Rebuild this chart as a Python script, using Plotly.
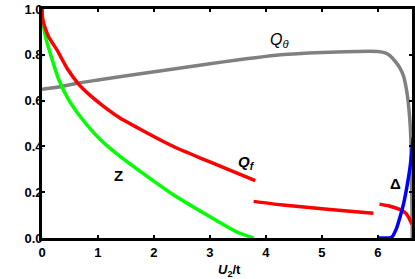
import plotly.graph_objects as go

# Z (green)
z_x = [0, 0.01, 0.03, 0.07, 0.136, 0.30, 0.475, 0.70, 1.04, 1.40, 1.76, 2.34, 2.95, 3.49, 3.78]
z_y = [1.0, 0.955, 0.92, 0.872, 0.815, 0.691, 0.604, 0.525, 0.43, 0.355, 0.29, 0.19, 0.10, 0.025, 0.0]

# Q_f (red), three branches
qf1_x = [0, 0.01, 0.05, 0.12, 0.27, 0.45, 0.654, 0.85, 1.10, 1.40, 1.755, 2.30, 2.83, 3.30, 3.81]
qf1_y = [1.0, 0.96, 0.922, 0.878, 0.82, 0.74, 0.672, 0.625, 0.575, 0.523, 0.475, 0.405, 0.349, 0.302, 0.251]
qf2_x = [3.78, 4.26, 5.0, 5.5, 5.92]
qf2_y = [0.16, 0.145, 0.128, 0.117, 0.108]
qf3_x = [6.03, 6.2, 6.40, 6.50, 6.55, 6.61]
qf3_y = [0.148, 0.14, 0.124, 0.108, 0.09, 0.06]

# Delta (blue)
d_x = [6.02, 6.20, 6.25, 6.33, 6.40, 6.46, 6.52, 6.57, 6.61, 6.63]
d_y = [0.0, 0.0, 0.004, 0.04, 0.095, 0.15, 0.225, 0.30, 0.386, 0.44]

# Q_theta (gray)
qt_x = [0, 0.357, 0.654, 1.0, 1.755, 3.0, 4.26, 5.0, 5.86, 6.0, 6.13, 6.22, 6.31, 6.40, 6.46, 6.53, 6.57, 6.59, 6.605, 6.615]
qt_y = [0.65, 0.662, 0.677, 0.69, 0.717, 0.761, 0.80, 0.81, 0.815, 0.814, 0.808, 0.795, 0.771, 0.74, 0.706, 0.618, 0.52, 0.43, 0.2, 0.0]

x_ticks = [0, 1, 2, 3, 4, 5, 6]
y_ticks = [0.0, 0.2, 0.4, 0.6, 0.8, 1.0]
y_tick_text = ["0.0", "0.2", "0.4", "0.6", "0.8", "1.0"]

fig = go.Figure()
lw = 3.5
sp = dict(shape="spline", smoothing=0.5)
fig.add_trace(go.Scatter(x=qt_x, y=qt_y, mode="lines", line=dict(color="#808080", width=lw, **sp)))
fig.add_trace(go.Scatter(x=z_x, y=z_y, mode="lines", line=dict(color="#00ff00", width=lw, **sp)))
for xs, ys in [(qf1_x, qf1_y), (qf2_x, qf2_y), (qf3_x, qf3_y)]:
    fig.add_trace(go.Scatter(x=xs, y=ys, mode="lines", line=dict(color="#ff0000", width=lw, **sp)))
fig.add_trace(go.Scatter(x=d_x, y=d_y, mode="lines", line=dict(color="#0000ff", width=lw, **sp)))

tickfont = dict(family="Liberation Sans, Arial, sans-serif", size=13, color="black", weight="bold")
fig.update_xaxes(range=[0, 6.61], tickvals=x_ticks, ticktext=[str(v) for v in x_ticks],
                 showline=True, linecolor="black", linewidth=2.8, mirror="ticks",
                 ticks="inside", ticklen=3, tickwidth=1.5, tickcolor="black",
                 showgrid=False, zeroline=False, tickfont=tickfont, automargin=False,
                 ticklabelstandoff=0)
fig.update_yaxes(range=[0, 1.0], tickvals=y_ticks, ticktext=y_tick_text,
                 showline=True, linecolor="black", linewidth=2.8, mirror="ticks",
                 ticks="inside", ticklen=3, tickwidth=1.5, tickcolor="black",
                 showgrid=False, zeroline=False, tickfont=tickfont, automargin=False,
                 ticklabelstandoff=-6)

lab = dict(family="Liberation Sans, Arial, sans-serif", color="black")
fig.add_annotation(x=4.25, y=0.862, text="<i>Q</i><sub><i>θ</i></sub>", showarrow=False,
                   font=dict(size=16, **lab))
fig.add_annotation(x=3.65, y=0.329, text="<b><i>Q</i><sub><i>f</i></sub></b>", showarrow=False,
                   font=dict(size=15, **lab))
fig.add_annotation(x=1.37, y=0.275, text="<b>Z</b>", showarrow=False, font=dict(size=15, **lab))
fig.add_annotation(x=6.32, y=0.24, text="<b>Δ</b>", showarrow=False, font=dict(size=15, **lab))
fig.add_annotation(xref="paper", yref="paper", x=0.507, y=-0.14, yanchor="middle",
                   text="<b><i>U</i><sub>2</sub>/t</b>", showarrow=False, font=dict(size=13, **lab))

fig.update_layout(width=415, height=279, margin=dict(l=42, r=3, t=9, b=41),
                  plot_bgcolor="white", paper_bgcolor="white", showlegend=False)
fig.write_html("out.html", config={"displayModeBar": False},
               post_script="document.body.style.margin='0';")
